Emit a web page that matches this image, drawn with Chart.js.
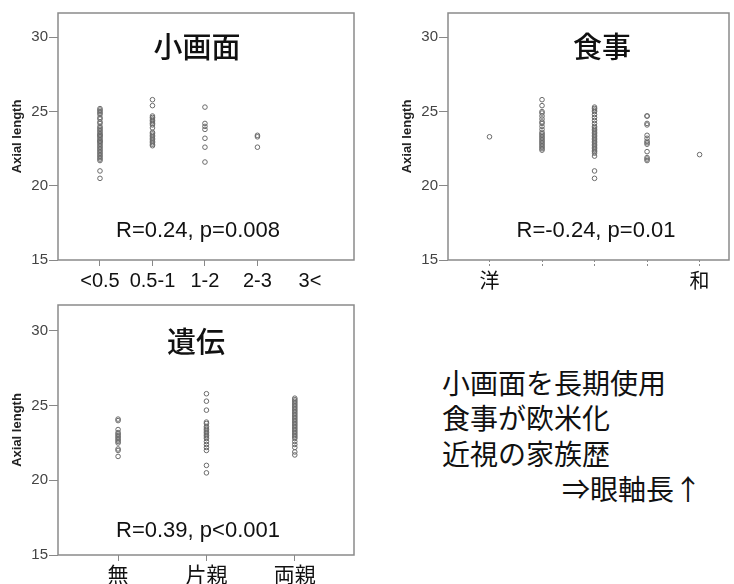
<!DOCTYPE html>
<html>
<head>
<meta charset="utf-8">
<script src="https://cdn.jsdelivr.net/npm/chart.js@4/dist/chart.umd.min.js"></script>
<style>
  html, body { margin: 0; padding: 0; background: #fff; overflow: hidden; }
  #page { position: relative; width: 734px; height: 584px; }
  canvas { position: absolute; }
  .lbl { position: absolute; transform: translate(-50%, -50%); line-height: 1; white-space: nowrap; color: #111; }
  .jp { font-family: "Noto Sans CJK JP", sans-serif; font-weight: 500; }
  .stat { font-family: "Liberation Sans", Arial, sans-serif; font-size: 22px; }
  .note { position: absolute; left: 442px; font-family: "Noto Sans CJK JP", sans-serif; font-size: 28px; line-height: 1; color: #111; transform: translateY(-50%); white-space: nowrap; }
</style>
</head>
<body>
<div id="page">
  <canvas id="screen" width="367" height="292" style="left:0;top:0"></canvas>
  <canvas id="diet" width="367" height="292" style="left:367px;top:0"></canvas>
  <canvas id="family" width="367" height="292" style="left:0;top:292px"></canvas>

  <div class="lbl jp" style="left:197px;top:45px;font-size:29px">小画面</div>
  <div class="lbl jp" style="left:602px;top:45px;font-size:29px">食事</div>
  <div class="lbl jp" style="left:196px;top:340px;font-size:29px">遺伝</div>

  <div class="lbl stat" style="left:198px;top:230px">R=0.24, p=0.008</div>
  <div class="lbl stat" style="left:596px;top:230px">R=-0.24, p=0.01</div>
  <div class="lbl stat" style="left:198px;top:530px">R=0.39, p&lt;0.001</div>

  <div class="note" style="top:382px">小画面を長期使用</div>
  <div class="note" style="top:417px">食事が欧米化</div>
  <div class="note" style="top:453px">近視の家族歴</div>
  <div class="note" style="top:488px;left:562px">⇒眼軸長↑</div>
</div>
<script>
// tick labels
const yTicks = [15, 20, 25, 30];
const screenLabels = ['<0.5', '0.5-1', '1-2', '2-3', '3<'];
const dietLabels = ['洋', '', '', '', '和'];
const familyLabels = ['無', '片親', '両親'];

// axial length per group
const screenValues = [
    [25.2, 25.1, 25.0, 24.9, 24.8, 24.6, 24.5, 24.3, 24.2, 24.0, 23.9, 23.8, 23.7, 23.6, 23.5, 23.4, 23.4, 23.3,
     23.2, 23.1, 23.0, 23.0, 22.9, 22.8, 22.7, 22.6, 22.5, 22.4, 22.3, 22.2, 22.1, 22.0, 21.9, 21.8, 21.7, 21.0, 20.5],
    [25.8, 25.4, 24.7, 24.6, 24.5, 24.4, 24.3, 24.2, 24.1, 23.9, 23.6, 23.5, 23.4, 23.3, 23.2, 23.1, 23.0, 22.9, 22.8, 22.7],
    [25.3, 24.2, 24.0, 23.8, 23.2, 22.6, 21.6],
    [23.4, 23.3, 22.6],
    []
];
const dietValues = [
    [23.3],
    [25.8, 25.4, 25.0, 24.9, 24.7, 24.5, 24.3, 24.2, 24.0, 23.8, 23.6, 23.5, 23.4, 23.3, 23.2, 23.1, 23.0, 22.9,
     22.8, 22.7, 22.6, 22.5, 22.4],
    [25.3, 25.2, 25.1, 25.0, 24.8, 24.6, 24.4, 24.2, 24.0, 23.9, 23.8, 23.7, 23.6, 23.5, 23.4, 23.3, 23.2, 23.1,
     23.0, 22.9, 22.8, 22.7, 22.6, 22.5, 22.4, 22.3, 22.2, 22.0, 21.0, 20.5],
    [24.7, 24.7, 24.2, 24.1, 23.4, 23.2, 23.0, 22.9, 22.8, 22.3, 21.9, 21.8, 21.7],
    [22.1]
];
const familyValues = [
    [24.1, 24.0, 23.4, 23.2, 23.1, 23.0, 22.9, 22.8, 22.7, 22.6, 22.5, 22.1, 22.0, 21.6],
    [25.8, 25.3, 24.7, 23.9, 23.8, 23.6, 23.5, 23.4, 23.3, 23.2, 23.1, 23.0, 22.9, 22.8, 22.6, 22.4, 22.2, 22.0,
     21.0, 20.5],
    [25.5, 25.4, 25.3, 25.2, 25.1, 25.0, 24.9, 24.8, 24.7, 24.6, 24.5, 24.4, 24.3, 24.2, 24.1, 24.0, 23.9, 23.8,
     23.7, 23.6, 23.5, 23.4, 23.3, 23.2, 23.1, 23.0, 22.9, 22.8, 22.6, 22.4, 22.2, 21.9, 21.7]
];

// frame round the plot area
const boxPlugin = {
    id: 'box',
    beforeDatasetsDraw(chart) {
        const { ctx, chartArea: a } = chart;
        ctx.save();
        ctx.strokeStyle = '#8a8a8a';
        ctx.lineWidth = 1.5;
        ctx.strokeRect(a.left, a.top, a.right - a.left, a.bottom - a.top);
        ctx.restore();
    }
};

function makePanel(id, labels, values, o) {
    const points = [];
    values.forEach((col, i) => col.forEach(v => points.push({ x: i, y: v })));

    return new Chart(document.getElementById(id), {
        type: 'scatter',
        data: {
            datasets: [{
                data: points,
                pointStyle: 'circle',
                pointRadius: 2.3,
                pointBorderWidth: 1,
                borderColor: '#6a6a6a',
                backgroundColor: 'rgba(0,0,0,0)'
            }]
        },
        plugins: [boxPlugin],
        options: {
            responsive: false,
            animation: false,
            layout: { padding: { top: 13, right: o.padRight, left: 0, bottom: 0 } },
            plugins: { legend: { display: false }, tooltip: { enabled: false } },
            scales: {
                x: {
                    type: 'linear',
                    min: o.xMin,
                    max: o.xMax,
                    afterBuildTicks: s => { s.ticks = labels.map((_, i) => ({ value: i })); },
                    afterFit: s => { s.height = o.xHeight; },
                    ticks: {
                        autoSkip: false,
                        maxRotation: 0,
                        padding: o.xPad,
                        color: '#111',
                        font: { family: o.xFont, size: o.xSize },
                        callback: (v, i) => labels[i]
                    },
                    grid: {
                        drawOnChartArea: false,
                        tickLength: 6,
                        tickColor: ctx => (ctx.tick && o.noTick.includes(ctx.tick.value)) ? 'rgba(0,0,0,0)' : '#888',
                        tickBorderDash: o.dash
                    },
                    border: { display: false }
                },
                y: {
                    min: 15,
                    max: o.yMax,
                    afterBuildTicks: s => { s.ticks = yTicks.map(v => ({ value: v })); },
                    afterFit: s => { s.width = o.yWidth; },
                    ticks: {
                        padding: 1,
                        color: '#444',
                        font: { family: 'Liberation Sans', size: 15 }
                    },
                    grid: { drawOnChartArea: false, tickLength: 9, tickColor: '#888' },
                    border: { display: false },
                    title: {
                        display: true,
                        text: 'Axial length',
                        color: '#222',
                        font: { family: 'Liberation Sans', size: 13, weight: 'bold' },
                        padding: { top: o.titlePad, bottom: 0 }
                    }
                }
            }
        }
    });
}

makePanel('screen', screenLabels, screenValues, {
    xMin: -0.8, xMax: 4.84, yMax: 31.64, yWidth: 58, xHeight: 32, padRight: 13,
    xFont: 'Liberation Sans', xSize: 20, xPad: 3, dash: [], noTick: [4], titlePad: 10
});
makePanel('diet', dietLabels, dietValues, {
    xMin: -0.79, xMax: 4.56, yMax: 31.64, yWidth: 81, xHeight: 32, padRight: 1,
    xFont: 'Noto Sans CJK JP', xSize: 20, xPad: 2, dash: [2, 2], noTick: [], titlePad: 33
});
makePanel('family', familyLabels, familyValues, {
    xMin: -0.68, xMax: 2.67, yMax: 31.74, yWidth: 58, xHeight: 29, padRight: 13,
    xFont: 'Noto Sans CJK JP', xSize: 21, xPad: 0, dash: [], noTick: [], titlePad: 10
});
</script>
</body>
</html>
